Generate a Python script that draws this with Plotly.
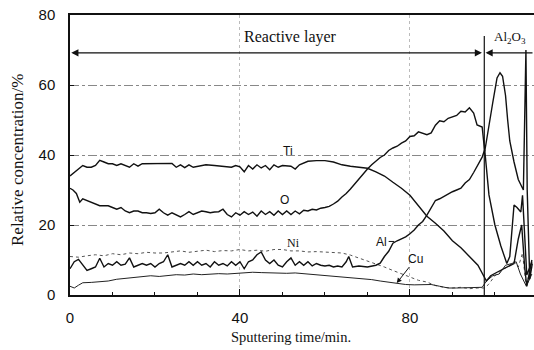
import plotly.graph_objects as go

# ---------------- data ----------------
ti_t = [0, 1, 2, 3, 4, 5, 6, 7, 8, 9, 10, 11, 12, 13, 14, 15, 16, 17, 18, 20, 22, 24, 25, 26, 27, 28, 29, 30,
        32, 34, 36, 38, 39, 40, 41, 42, 43, 44, 45, 46, 47, 48, 49, 50, 52, 53, 54, 56, 58, 60, 62, 64, 66, 68,
        70, 72, 74, 76, 78, 80, 82, 84, 86, 88, 90, 92, 94, 96, 98, 99, 100.5, 102, 103.5, 104.5, 105.5, 106.3,
        107, 107.5, 108.7]
ti_v = [34, 35, 36, 37, 36.5, 36.5, 37, 38.5, 38, 37.5, 37.5, 37, 37.5, 37, 36.5, 37.5, 36.8, 37.5, 37.5, 37.5,
        37.6, 37.6, 36.5, 37.2, 36.4, 37.2, 36.5, 36.8, 37.2, 37, 36.8, 36.5, 37, 36.6, 35.2, 37, 36, 37.2, 36.3,
        37, 35.8, 37.2, 36.5, 37, 36.8, 36, 37.2, 38.2, 38.4, 38.4, 38, 37.2, 36.8, 36.6, 36.2, 35.2, 34, 32.2,
        30.5, 28.5, 25.5, 22.5, 20.5, 18.3, 15.5, 13.5, 11, 8.5, 4, 5.5, 6.5, 7.5, 8.5, 9, 16, 20, 8, 2.5, 10]

o_t = [0, 0.7, 1.5, 2.3, 3, 4, 5, 6, 7, 8, 9, 10, 11, 12, 13, 14, 15, 16, 17, 18, 19, 20, 21, 22, 23, 24, 25,
       26, 27, 28, 29, 30, 31, 32, 33, 34, 35, 36, 37, 38, 39, 40, 41, 42, 43, 44, 45, 46, 47, 48, 49, 50, 51,
       52, 53, 54, 55, 56, 57, 58, 59, 60, 61, 62, 63, 64, 65, 66, 67, 68, 69, 70, 71, 72, 73, 74, 75, 76, 77,
       78, 79, 80, 81, 82, 83, 84, 85, 86, 87, 88, 89, 90, 91, 92, 93, 94, 95, 95.8, 97, 97.6, 98.5, 99.5,
       100.5, 101.2, 101.8, 102.5, 103, 103.5, 104.5, 105.5, 106.7, 107.3, 107.6, 108.2, 108.8]
o_v = [30.5, 30, 29, 26.5, 27.5, 27, 26.5, 26, 25.5, 25.5, 25.5, 25, 24.5, 25, 24, 23.5, 24, 24, 23.5, 23.5,
       23.3, 23.5, 24.5, 23.5, 22.8, 23.5, 23, 22.3, 23, 23.8, 23, 23.5, 24, 23.8, 23.5, 23.7, 23.8, 24.5, 23,
       22.3, 23.5, 22.8, 23.8, 23, 23.7, 22.5, 24, 23, 23.8, 22.8, 24, 23, 24, 23, 24, 23.2, 24.2, 24, 24.5,
       24.3, 24.8, 25, 25.3, 26, 26.8, 28, 29, 30.3, 31.8, 33.2, 34.5, 36, 37.2, 38.2, 39.3, 40, 41.3, 42,
       42.5, 43.4, 44, 45.3, 45.5, 46.6, 46.2, 45.8, 46.3, 48.5, 49.8, 49.5, 50.5, 51, 51.3, 52.5, 52.3, 53.5,
       52, 48.6, 48, 41, 48, 55, 62, 63.5, 62.5, 57, 50, 44, 38, 33, 30, 70, 30, 4.5, 9]

al_t = [0, 1, 2, 3, 4, 5, 6, 7, 8, 9, 10, 11, 12, 13, 14, 15, 16, 17, 18, 19, 20, 21, 22, 23, 24, 25, 26, 27,
        28, 29, 30, 31, 32, 33, 34, 35, 36, 37, 38, 39, 40, 41, 42, 43, 44, 45, 46, 47, 48, 49, 50, 51, 52, 53,
        54, 55, 56, 57, 58, 59, 60, 61, 62, 63, 64, 65, 65.6, 66.5, 68, 70, 72, 73, 74, 75, 76, 77, 78, 79, 80,
        81, 82, 83, 84, 85, 86, 87, 88, 89, 90, 91, 92, 93, 94, 95, 96, 97, 97.6, 98.6, 100, 101.4, 102.8,
        103.5, 104.5, 105.2, 106.1, 106.5, 107.5, 108.7]
al_v = [7.5, 9.5, 10.2, 8.5, 7, 7.5, 8, 10.5, 8, 9, 8.5, 9.5, 8.5, 8.8, 10.6, 8, 8.5, 9, 8.5, 9, 8, 9, 9.5,
        11.5, 8, 8.5, 9, 8.5, 9.5, 8.5, 9.5, 8.5, 9, 8, 9.5, 8.5, 9, 8.3, 9.5, 8.5, 9.5, 7.5, 9.5, 10, 11.5,
        12.3, 10, 9, 10, 8.5, 8, 9.5, 10.6, 8.5, 9.5, 8.5, 9.5, 8.3, 9, 8.5, 8.3, 8.5, 8, 8.3, 8, 9.5, 11, 8,
        8.3, 8, 8.5, 9.1, 11, 12.5, 14.8, 15.5, 16, 16.6, 17.5, 18.6, 20, 21, 22.8, 25, 27, 27.5, 28.2, 29,
        29.5, 30, 30.5, 32, 33, 35, 37, 39.4, 41.5, 28.6, 20, 14, 9, 11, 25.7, 25, 23.7, 28.5, 5.7, 9.4]

ni_t = [0, 2, 4, 6, 8, 10, 12, 14, 16, 18, 20, 22, 24, 26, 28, 30, 32, 34, 36, 38, 40, 42, 44, 46, 48, 50, 52,
        54, 56, 58, 60, 62, 64, 66, 68, 70, 72, 74, 76, 78, 80, 82, 84, 86, 88, 90, 92, 94, 96, 97.5, 98.5, 100,
        102, 103, 104.5, 105.5, 106.5, 107.3, 108.7]
ni_v = [11, 10.8, 11.2, 11.5, 11.2, 11.8, 11.5, 12, 11.8, 12.2, 12, 12, 12.3, 12.6, 12.2, 12.5, 12.8, 12.4,
        12.7, 12.6, 13, 12.6, 12.8, 12.5, 13, 13, 12.6, 12.6, 12.3, 12.4, 12.3, 12.3, 12, 11.4, 10.6, 9.7, 8.8,
        8, 7, 6, 5, 4.2, 3.7, 2.7, 2.2, 2, 2.2, 1.8, 2, 2, 3, 5.5, 7.5, 8, 9.5, 8, 12, 3, 8]

cu_t = [0, 1, 2, 3, 5, 7, 9, 11, 13, 15, 17, 19, 21, 23, 25, 27, 29, 31, 33, 35, 37, 39, 41, 43, 45, 47, 49,
        51, 53, 55, 57, 59, 61, 63, 65, 67, 69, 71, 73, 75, 77, 79, 81, 83, 85, 87, 89, 91, 93, 95, 97, 98,
        99.5, 101, 102.5, 104, 105, 106, 107.4, 108.7]
cu_v = [2.5, 2, 2.8, 3.5, 3.6, 3.8, 4, 4.5, 4.8, 5, 5.2, 5.5, 5.3, 5.6, 5.8, 5.7, 6, 5.8, 6, 6.1, 6, 6.2, 6.3,
        6.5, 6.4, 6.3, 6.4, 6.2, 6.3, 6.1, 5.8, 5.6, 5.4, 5.2, 5, 4.8, 4.7, 4.4, 4, 3.6, 3.4, 3, 2.9, 2.9, 3,
        2.5, 2, 2, 2.1, 2, 2.2, 4, 5.5, 6, 8.5, 9, 9.5, 6, 2.5, 6]

x_ticks = [0, 40, 80]
y_ticks = [0, 20, 40, 60, 80]
x_range = [0, 109.2]
y_range = [0, 80]
boundary_t = 97.5
arrow_v = 69.2

# ---------------- figure ----------------
fig = go.Figure()

def add(t, v, color="#111", width=1.4, dash="solid"):
    fig.add_trace(go.Scatter(x=t, y=v, mode="lines",
                             line=dict(color=color, width=width, dash=dash),
                             showlegend=False, hoverinfo="skip"))

add(ni_t, ni_v, color="#555", width=1.0, dash="dot")
add(cu_t, cu_v, color="#222", width=1.0)
add(al_t, al_v)
add(o_t, o_v)
add(ti_t, ti_v)

serif = "Liberation Serif, Times New Roman, serif"
sans = "Liberation Sans, Arial, sans-serif"

fig.update_layout(
    width=534, height=350,
    margin=dict(l=70, r=0, t=15, b=55),
    paper_bgcolor="white", plot_bgcolor="white",
    xaxis=dict(range=x_range, tickvals=x_ticks, ticks="inside", ticklen=6, tickcolor="#111",
               minor=dict(dtick=10, ticks="inside", ticklen=3, tickcolor="#111"),
               showline=True, linecolor="#111", linewidth=1.5, mirror=True,
               showgrid=True, gridcolor="#bbb", griddash="dot", gridwidth=1,
               zeroline=False, tickfont=dict(family=sans, size=15, color="#111"),
               ticklabelstandoff=8),
    yaxis=dict(range=y_range, tickvals=y_ticks, ticks="inside", ticklen=4, tickcolor="#111",
               showline=True, linecolor="#111", linewidth=1.5,
               showgrid=True, gridcolor="#888", griddash="dashdot", gridwidth=1,
               zeroline=False, tickfont=dict(family=sans, size=15, color="#111"),
               ticklabelstandoff=10),
)

# boundary line between layers
fig.add_shape(type="line", x0=boundary_t, x1=boundary_t, y0=0, y1=74,
              line=dict(color="#111", width=1.2), xref="x", yref="y")

ann = []
# double arrow for reactive layer
ann.append(dict(x=0.3, y=arrow_v, ax=boundary_t - 0.2, ay=arrow_v, xref="x", yref="y",
                axref="x", ayref="y", text="", showarrow=True, arrowhead=2, arrowsize=1.1,
                arrowwidth=1.3, arrowcolor="#111", arrowside="end+start"))
ann.append(dict(x=boundary_t + 0.3, y=arrow_v, ax=x_range[1], ay=arrow_v, xref="x", yref="y",
                axref="x", ayref="y", text="", showarrow=True, arrowhead=2, arrowsize=1.1,
                arrowwidth=1.3, arrowcolor="#111"))
ann.append(dict(x=51.8, y=73.6, xref="x", yref="y", text="Reactive layer", showarrow=False,
                font=dict(family=serif, size=16, color="#111")))
ann.append(dict(x=103.6, y=73.6, xref="x", yref="y", text="Al<sub>2</sub>O<sub>3</sub>", showarrow=False,
                font=dict(family=serif, size=13, color="#111")))
# element labels
ann.append(dict(x=51.3, y=41.2, xref="x", yref="y", text="Ti", showarrow=False,
                font=dict(family=sans, size=12, color="#111")))
ann.append(dict(x=50.4, y=27.2, xref="x", yref="y", text="O", showarrow=False,
                font=dict(family=sans, size=12, color="#111")))
ann.append(dict(x=52.5, y=15.0, xref="x", yref="y", text="Ni", showarrow=False,
                font=dict(family=serif, size=12, color="#111")))
ann.append(dict(x=73.4, y=15.2, xref="x", yref="y", text="Al", showarrow=False,
                font=dict(family=sans, size=12, color="#111")))
ann.append(dict(x=76.9, y=3.4, ax=81.4, ay=10.4, xref="x", yref="y", axref="x", ayref="y",
                text="Cu", showarrow=True, arrowhead=2, arrowsize=1, arrowwidth=1, arrowcolor="#111",
                standoff=0, font=dict(family=sans, size=12, color="#111")))
# axis titles
ann.append(dict(x=18, y=160, text="Relative concentration/%", showarrow=False,
                textangle=-90, font=dict(family=serif, size=17, color="#111")))
ann.append(dict(x=291, y=337, text="Sputtering time/min.", showarrow=False,
                font=dict(family=serif, size=14.5, color="#111")))

# convert pixel-based title positions to paper coords
pw, ph = 534 - 70, 350 - 15 - 55
for a in ann[-2:]:
    a["x"] = (a["x"] - 70) / pw
    a["y"] = (350 - 55 - a["y"]) / ph
    a["xref"] = "paper"
    a["yref"] = "paper"
    a["xanchor"] = "center"
    a["yanchor"] = "middle"

fig.update_layout(annotations=ann)

# short leader from Al label to curve
fig.add_shape(type="line", x0=75.0, x1=76.3, y0=15.3, y1=15.3, line=dict(color="#111", width=1),
              xref="x", yref="y")

fig.write_html("out.html")
